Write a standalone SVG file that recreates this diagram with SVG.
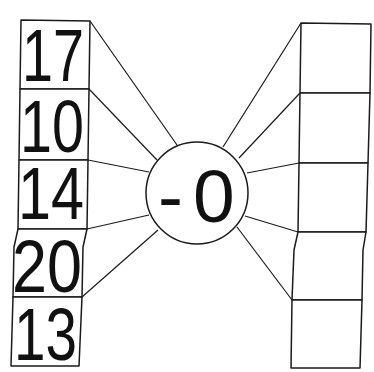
<svg xmlns="http://www.w3.org/2000/svg" width="374" height="372" viewBox="0 0 374 372">
<style>
.box{fill:#fff;stroke:#1a1a1a;stroke-width:1.5;stroke-linejoin:round}
.ln{stroke:#1a1a1a;stroke-width:1.2;fill:none}
.num{font-family:"Liberation Sans","DejaVu Sans",sans-serif;font-size:75px;fill:#111}
</style>
<rect width="374" height="372" fill="#fff"/>
<g id="connectors">
<line class="ln" x1="90" y1="21" x2="177" y2="145"/>
<line class="ln" x1="89" y1="89" x2="157" y2="160"/>
<line class="ln" x1="88" y1="160" x2="149" y2="172"/>
<line class="ln" x1="87" y1="229" x2="149" y2="215"/>
<line class="ln" x1="82" y1="297" x2="158" y2="230"/>
<line class="ln" x1="301" y1="23" x2="223" y2="147"/>
<line class="ln" x1="300" y1="93" x2="239" y2="158"/>
<line class="ln" x1="299" y1="163" x2="247" y2="173"/>
<line class="ln" x1="298" y1="232" x2="245" y2="216"/>
<line class="ln" x1="292" y1="300" x2="237" y2="227"/>
</g>
<g id="n17"><polygon class="box" points="21,20 90,21 89,89 20,89"/><text class="num" x="22" y="81" textLength="62" lengthAdjust="spacingAndGlyphs">17</text></g>
<g id="n10"><polygon class="box" points="20,89 89,89 88,160 19,160"/><text class="num" x="20" y="152" textLength="64" lengthAdjust="spacingAndGlyphs">10</text></g>
<g id="n14"><polygon class="box" points="19,160 88,160 87,229 18,229"/><text class="num" x="18" y="219" textLength="66" lengthAdjust="spacingAndGlyphs">14</text></g>
<g id="n20"><polygon class="box" points="18,229 87,229 83,247 82,297 13,297 14,247"/><text class="num" x="12" y="292" textLength="70" lengthAdjust="spacingAndGlyphs">20</text></g>
<g id="n13"><polygon class="box" points="13,297 82,297 79,366 11,366"/><text class="num" x="14" y="360" textLength="63" lengthAdjust="spacingAndGlyphs">13</text></g>
<g id="center"><circle cx="197" cy="193" r="51" fill="#fff" stroke="#1a1a1a" stroke-width="1.5"/><text class="num"><tspan x="158" y="222">-</tspan><tspan x="193" y="222">0</tspan></text></g>
<g id="r1"><polygon class="box" points="301,23 371,24 370,93 300,93"/></g>
<g id="r2"><polygon class="box" points="300,93 370,93 368,163 299,163"/></g>
<g id="r3"><polygon class="box" points="299,163 368,163 366,232 298,232"/></g>
<g id="r4"><polygon class="box" points="298,232 366,232 363,250 362,300 292,300 294,250"/></g>
<g id="r5"><polygon class="box" points="292,300 362,300 360,368 291,368"/></g>
</svg>
